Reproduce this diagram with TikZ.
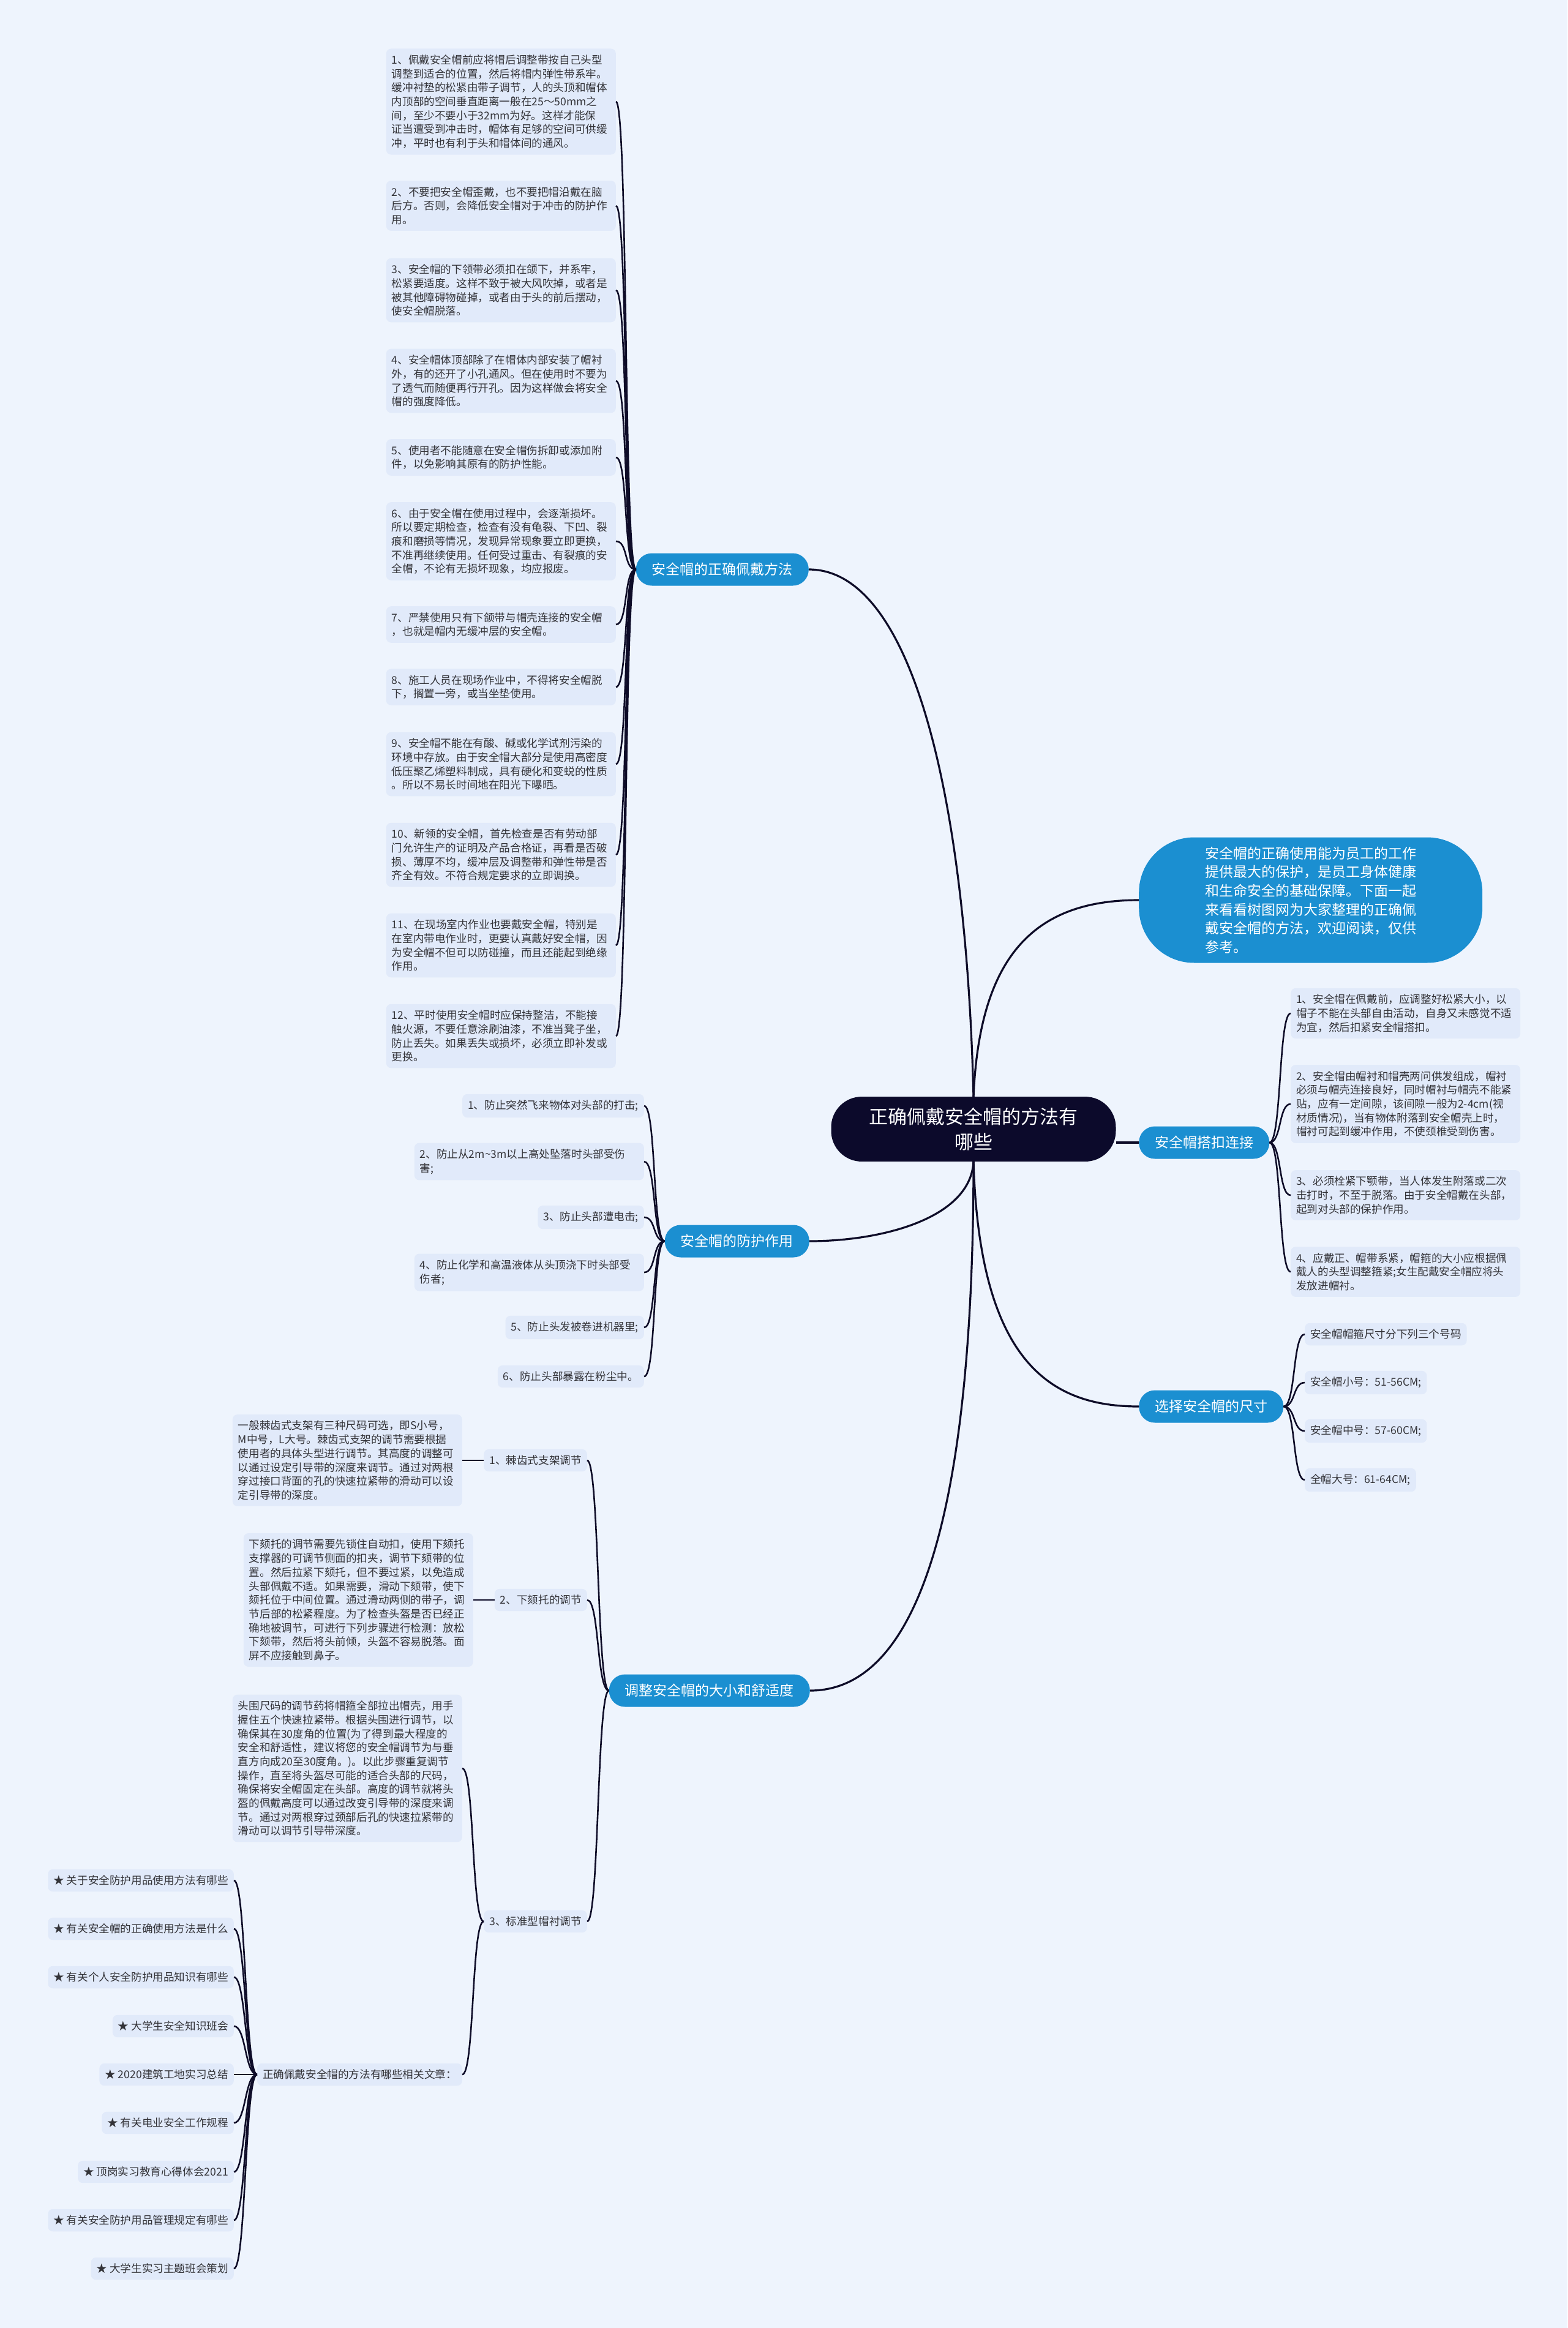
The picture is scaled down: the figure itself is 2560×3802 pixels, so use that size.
\documentclass[tikz,border=0pt]{standalone}
\usepackage{fontspec}
\newfontfamily\cjk{Noto Sans CJK SC}
\usepackage{tikz}
\usepackage{xcolor}
\definecolor{pagebg}{RGB}{238,244,253}
\definecolor{leafbg}{RGB}{225,234,250}
\definecolor{leaftext}{RGB}{51,51,56}
\definecolor{topicblue}{RGB}{27,143,209}
\definecolor{hubdark}{RGB}{12,10,43}
\definecolor{linkcol}{RGB}{14,12,40}

\begin{document}
\begin{tikzpicture}[x=1pt, y=-1pt,
    link/.style={draw=linkcol, line width=2.6pt},
    trunk/.style={draw=linkcol, line width=3.2pt},
    leaf/.style={fill=leafbg, rounded corners=8pt, text=leaftext, align=left,
        inner xsep=9pt, inner ysep=10pt, font=\cjk\fontsize{17.6}{22.7}\selectfont},
    leafwide/.style={leaf, text width=357pt},
    topic/.style={fill=topicblue, rounded corners=26pt, text=white, minimum height=53pt,
        inner xsep=26pt, font=\cjk\fontsize{23}{28}\selectfont},
    hub/.style={fill=hubdark, rounded corners=50pt, text=white, align=center,
        inner xsep=62pt, inner ysep=18pt, font=\cjk\fontsize{31}{41}\selectfont},
    intro/.style={fill=topicblue, rounded corners=90pt, text=white, align=left,
        inner xsep=108pt, inner ysep=15pt, font=\cjk\fontsize{23}{30.7}\selectfont}]

    % Page
    \fill[pagebg] (0,0) rectangle (2560,3802);
    \useasboundingbox (0,0) rectangle (2560,3802);

    % Centre and main topics
    \node[hub] (root) at (1590,1844) {正确佩戴安全帽的方法有\\哪些};
    \node[topic, anchor=east] (wear) at (1321,930) {安全帽的正确佩戴方法};
    \node[intro, anchor=west] (intro) at (1860,1470) {安全帽的正确使用能为员工的工作\\提供最大的保护，是员工身体健康\\和生命安全的基础保障。下面一起\\来看看树图网为大家整理的正确佩\\戴安全帽的方法，欢迎阅读，仅供\\参考。};
    \node[topic, anchor=west] (buckle) at (1860,1866) {安全帽搭扣连接};
    \node[topic, anchor=east] (protect) at (1322,2027) {安全帽的防护作用};
    \node[topic, anchor=west] (size) at (1860,2297) {选择安全帽的尺寸};
    \node[topic, anchor=east] (adjust) at (1323,2761) {调整安全帽的大小和舒适度};

    \draw[trunk] (root.north) .. controls (1578,1300) and (1490,930) .. (wear.east);
    \draw[trunk] (root.north) .. controls (1600,1560) and (1690,1470) .. (intro.west);
    \draw[trunk] (buckle.west) -- (buckle.west -| root.east);
    \draw[trunk] (root.south) .. controls (1585,1990) and (1440,2027) .. (protect.east);
    \draw[trunk] (root.south) .. controls (1600,2230) and (1720,2297) .. (size.west);
    \draw[trunk] (root.south) .. controls (1590,2560) and (1470,2761) .. (adjust.east);

    % --- Wearing rules ---
    \node[leafwide, anchor=east] (w1) at (1006,166) {1、佩戴安全帽前应将帽后调整带按自己头型\\调整到适合的位置，然后将帽内弹性带系牢。\\缓冲衬垫的松紧由带子调节，人的头顶和帽体\\内顶部的空间垂直距离一般在25～50mm之\\间，至少不要小于32mm为好。这样才能保\\证当遭受到冲击时，帽体有足够的空间可供缓\\冲，平时也有利于头和帽体间的通风。};
    \node[leafwide, anchor=east] (w2) at (1006,336) {2、不要把安全帽歪戴，也不要把帽沿戴在脑\\后方。否则，会降低安全帽对于冲击的防护作\\用。};
    \node[leafwide, anchor=east] (w3) at (1006,474) {3、安全帽的下领带必须扣在颌下，并系牢，\\松紧要适度。这样不致于被大风吹掉，或者是\\被其他障碍物碰掉，或者由于头的前后摆动，\\使安全帽脱落。};
    \node[leafwide, anchor=east] (w4) at (1006,622) {4、安全帽体顶部除了在帽体内部安装了帽衬\\外，有的还开了小孔通风。但在使用时不要为\\了透气而随便再行开孔。因为这样做会将安全\\帽的强度降低。};
    \node[leafwide, anchor=east] (w5) at (1006,747) {5、使用者不能随意在安全帽伤拆卸或添加附\\件，以免影响其原有的防护性能。};
    \node[leafwide, anchor=east] (w6) at (1006,884) {6、由于安全帽在使用过程中，会逐渐损坏。\\所以要定期检查，检查有没有龟裂、下凹、裂\\痕和磨损等情况，发现异常现象要立即更换，\\不准再继续使用。任何受过重击、有裂痕的安\\全帽，不论有无损坏现象，均应报废。};
    \node[leafwide, anchor=east] (w7) at (1006,1020) {7、严禁使用只有下颌带与帽壳连接的安全帽\\，也就是帽内无缓冲层的安全帽。};
    \node[leafwide, anchor=east] (w8) at (1006,1122) {8、施工人员在现场作业中，不得将安全帽脱\\下，搁置一旁，或当坐垫使用。};
    \node[leafwide, anchor=east] (w9) at (1006,1248) {9、安全帽不能在有酸、碱或化学试剂污染的\\环境中存放。由于安全帽大部分是使用高密度\\低压聚乙烯塑料制成，具有硬化和变蜕的性质\\。所以不易长时间地在阳光下曝晒。};
    \node[leafwide, anchor=east] (w10) at (1006,1396) {10、新领的安全帽，首先检查是否有劳动部\\门允许生产的证明及产品合格证，再看是否破\\损、薄厚不均，缓冲层及调整带和弹性带是否\\齐全有效。不符合规定要求的立即调换。};
    \node[leafwide, anchor=east] (w11) at (1006,1544) {11、在现场室内作业也要戴安全帽，特别是\\在室内带电作业时，更要认真戴好安全帽，因\\为安全帽不但可以防碰撞，而且还能起到绝缘\\作用。};
    \node[leafwide, anchor=east] (w12) at (1006,1692) {12、平时使用安全帽时应保持整洁，不能接\\触火源，不要任意涂刷油漆，不准当凳子坐，\\防止丢失。如果丢失或损坏，必须立即补发或\\更换。};

    \draw[link] (wear.west) .. controls +(-20,0) and +(20,0) .. (w1.east);
    \draw[link] (wear.west) .. controls +(-20,0) and +(20,0) .. (w2.east);
    \draw[link] (wear.west) .. controls +(-20,0) and +(20,0) .. (w3.east);
    \draw[link] (wear.west) .. controls +(-20,0) and +(20,0) .. (w4.east);
    \draw[link] (wear.west) .. controls +(-20,0) and +(20,0) .. (w5.east);
    \draw[link] (wear.west) .. controls +(-20,0) and +(20,0) .. (w6.east);
    \draw[link] (wear.west) .. controls +(-20,0) and +(20,0) .. (w7.east);
    \draw[link] (wear.west) .. controls +(-20,0) and +(20,0) .. (w8.east);
    \draw[link] (wear.west) .. controls +(-20,0) and +(20,0) .. (w9.east);
    \draw[link] (wear.west) .. controls +(-20,0) and +(20,0) .. (w10.east);
    \draw[link] (wear.west) .. controls +(-20,0) and +(20,0) .. (w11.east);
    \draw[link] (wear.west) .. controls +(-20,0) and +(20,0) .. (w12.east);

    % --- Buckle ---
    \node[leafwide, anchor=west] (b1) at (2108,1655) {1、安全帽在佩戴前，应调整好松紧大小，以\\帽子不能在头部自由活动，自身又未感觉不适\\为宜，然后扣紧安全帽搭扣。};
    \node[leafwide, anchor=west] (b2) at (2108,1803) {2、安全帽由帽衬和帽壳两问供发组成，帽衬\\必须与帽壳连接良好，同时帽衬与帽壳不能紧\\贴，应有一定间隙，该间隙一般为2-4cm(视\\材质情况)，当有物体附落到安全帽壳上时，\\帽衬可起到缓冲作用，不使颈椎受到伤害。};
    \node[leafwide, anchor=west] (b3) at (2108,1952) {3、必须栓紧下颚带，当人体发生附落或二次\\击打时，不至于脱落。由于安全帽戴在头部，\\起到对头部的保护作用。};
    \node[leafwide, anchor=west] (b4) at (2108,2077) {4、应戴正、帽带系紧，帽箍的大小应根据佩\\戴人的头型调整箍紧;女生配戴安全帽应将头\\发放进帽衬。};

    \draw[link] (buckle.east) .. controls +(20,0) and +(-20,0) .. (b1.west);
    \draw[link] (buckle.east) .. controls +(20,0) and +(-20,0) .. (b2.west);
    \draw[link] (buckle.east) .. controls +(20,0) and +(-20,0) .. (b3.west);
    \draw[link] (buckle.east) .. controls +(20,0) and +(-20,0) .. (b4.west);

    % --- Sizes ---
    \node[leaf, anchor=west] (s1) at (2131,2179) {安全帽帽箍尺寸分下列三个号码};
    \node[leaf, anchor=west] (s2) at (2131,2258) {安全帽小号：51-56CM;};
    \node[leaf, anchor=west] (s3) at (2131,2337) {安全帽中号：57-60CM;};
    \node[leaf, anchor=west] (s4) at (2131,2417) {全帽大号：61-64CM;};

    \draw[link] (size.east) .. controls +(20,0) and +(-20,0) .. (s1.west);
    \draw[link] (size.east) .. controls +(20,0) and +(-20,0) .. (s2.west);
    \draw[link] (size.east) .. controls +(20,0) and +(-20,0) .. (s3.west);
    \draw[link] (size.east) .. controls +(20,0) and +(-20,0) .. (s4.west);

    % --- Protection ---
    \node[leaf, anchor=east] (p1) at (1052,1806) {1、防止突然飞来物体对头部的打击;};
    \node[leafwide, anchor=east] (p2) at (1052,1897) {2、防止从2m\textasciitilde3m以上高处坠落时头部受伤\\害;};
    \node[leaf, anchor=east] (p3) at (1052,1988) {3、防止头部遭电击;};
    \node[leafwide, anchor=east] (p4) at (1052,2078) {4、防止化学和高温液体从头顶浇下时头部受\\伤者;};
    \node[leaf, anchor=east] (p5) at (1052,2168) {5、防止头发被卷进机器里;};
    \node[leaf, anchor=east] (p6) at (1052,2248) {6、防止头部暴露在粉尘中。};

    \draw[link] (protect.west) .. controls +(-20,0) and +(20,0) .. (p1.east);
    \draw[link] (protect.west) .. controls +(-20,0) and +(20,0) .. (p2.east);
    \draw[link] (protect.west) .. controls +(-20,0) and +(20,0) .. (p3.east);
    \draw[link] (protect.west) .. controls +(-20,0) and +(20,0) .. (p4.east);
    \draw[link] (protect.west) .. controls +(-20,0) and +(20,0) .. (p5.east);
    \draw[link] (protect.west) .. controls +(-20,0) and +(20,0) .. (p6.east);

    % --- Adjusting size and comfort ---
    \node[leaf, anchor=east] (a1) at (959,2385) {1、棘齿式支架调节};
    \node[leaf, anchor=east] (a2) at (959,2613) {2、下颏托的调节};
    \node[leaf, anchor=east] (a3) at (959,3138) {3、标准型帽衬调节};

    \draw[link] (adjust.west) .. controls +(-20,0) and +(20,0) .. (a1.east);
    \draw[link] (adjust.west) .. controls +(-20,0) and +(20,0) .. (a2.east);
    \draw[link] (adjust.west) .. controls +(-20,0) and +(20,0) .. (a3.east);

    \node[leafwide, anchor=east] (a1t) at (755,2385) {一般棘齿式支架有三种尺码可选，即S小号，\\M中号，L大号。棘齿式支架的调节需要根据\\使用者的具体头型进行调节。其高度的调整可\\以通过设定引导带的深度来调节。通过对两根\\穿过接口背面的孔的快速拉紧带的滑动可以设\\定引导带的深度。};
    \node[leafwide, anchor=east] (a2t) at (773,2613) {下颏托的调节需要先锁住自动扣，使用下颏托\\支撑器的可调节侧面的扣夹，调节下颏带的位\\置。然后拉紧下颏托，但不要过紧，以免造成\\头部佩戴不适。如果需要，滑动下颏带，使下\\颏托位于中间位置。通过滑动两侧的带子，调\\节后部的松紧程度。为了检查头盔是否已经正\\确地被调节，可进行下列步骤进行检测：放松\\下颏带，然后将头前倾，头盔不容易脱落。面\\屏不应接触到鼻子。};
    \node[leafwide, anchor=east] (a3t) at (755,2888) {头围尺码的调节药将帽箍全部拉出帽壳，用手\\握住五个快速拉紧带。根据头围进行调节，以\\确保其在30度角的位置(为了得到最大程度的\\安全和舒适性，建议将您的安全帽调节为与垂\\直方向成20至30度角。)。以此步骤重复调节\\操作，直至将头盔尽可能的适合头部的尺码，\\确保将安全帽固定在头部。高度的调节就将头\\盔的佩戴高度可以通过改变引导带的深度来调\\节。通过对两根穿过颈部后孔的快速拉紧带的\\滑动可以调节引导带深度。};
    \node[leaf, anchor=east] (rel) at (755,3388) {正确佩戴安全帽的方法有哪些相关文章：};

    \draw[link] (a1.west) -- (a1t.east);
    \draw[link] (a2.west) -- (a2t.east);
    \draw[link] (a3.west) .. controls +(-20,0) and +(20,0) .. (a3t.east);
    \draw[link] (a3.west) .. controls +(-20,0) and +(20,0) .. (rel.east);

    % Related articles
    \node[leaf, anchor=east] (r1) at (382,3071) {★ 关于安全防护用品使用方法有哪些};
    \node[leaf, anchor=east] (r2) at (382,3150) {★ 有关安全帽的正确使用方法是什么};
    \node[leaf, anchor=east] (r3) at (382,3229) {★ 有关个人安全防护用品知识有哪些};
    \node[leaf, anchor=east] (r4) at (382,3309) {★ 大学生安全知识班会};
    \node[leaf, anchor=east] (r5) at (382,3388) {★ 2020建筑工地实习总结};
    \node[leaf, anchor=east] (r6) at (382,3467) {★ 有关电业安全工作规程};
    \node[leaf, anchor=east] (r7) at (382,3547) {★ 顶岗实习教育心得体会2021};
    \node[leaf, anchor=east] (r8) at (382,3626) {★ 有关安全防护用品管理规定有哪些};
    \node[leaf, anchor=east] (r9) at (382,3705) {★ 大学生实习主题班会策划};

    \draw[link] (rel.west) .. controls +(-20,0) and +(20,0) .. (r1.east);
    \draw[link] (rel.west) .. controls +(-20,0) and +(20,0) .. (r2.east);
    \draw[link] (rel.west) .. controls +(-20,0) and +(20,0) .. (r3.east);
    \draw[link] (rel.west) .. controls +(-20,0) and +(20,0) .. (r4.east);
    \draw[link] (rel.west) -- (r5.east);
    \draw[link] (rel.west) .. controls +(-20,0) and +(20,0) .. (r6.east);
    \draw[link] (rel.west) .. controls +(-20,0) and +(20,0) .. (r7.east);
    \draw[link] (rel.west) .. controls +(-20,0) and +(20,0) .. (r8.east);
    \draw[link] (rel.west) .. controls +(-20,0) and +(20,0) .. (r9.east);

\end{tikzpicture}
\end{document}
